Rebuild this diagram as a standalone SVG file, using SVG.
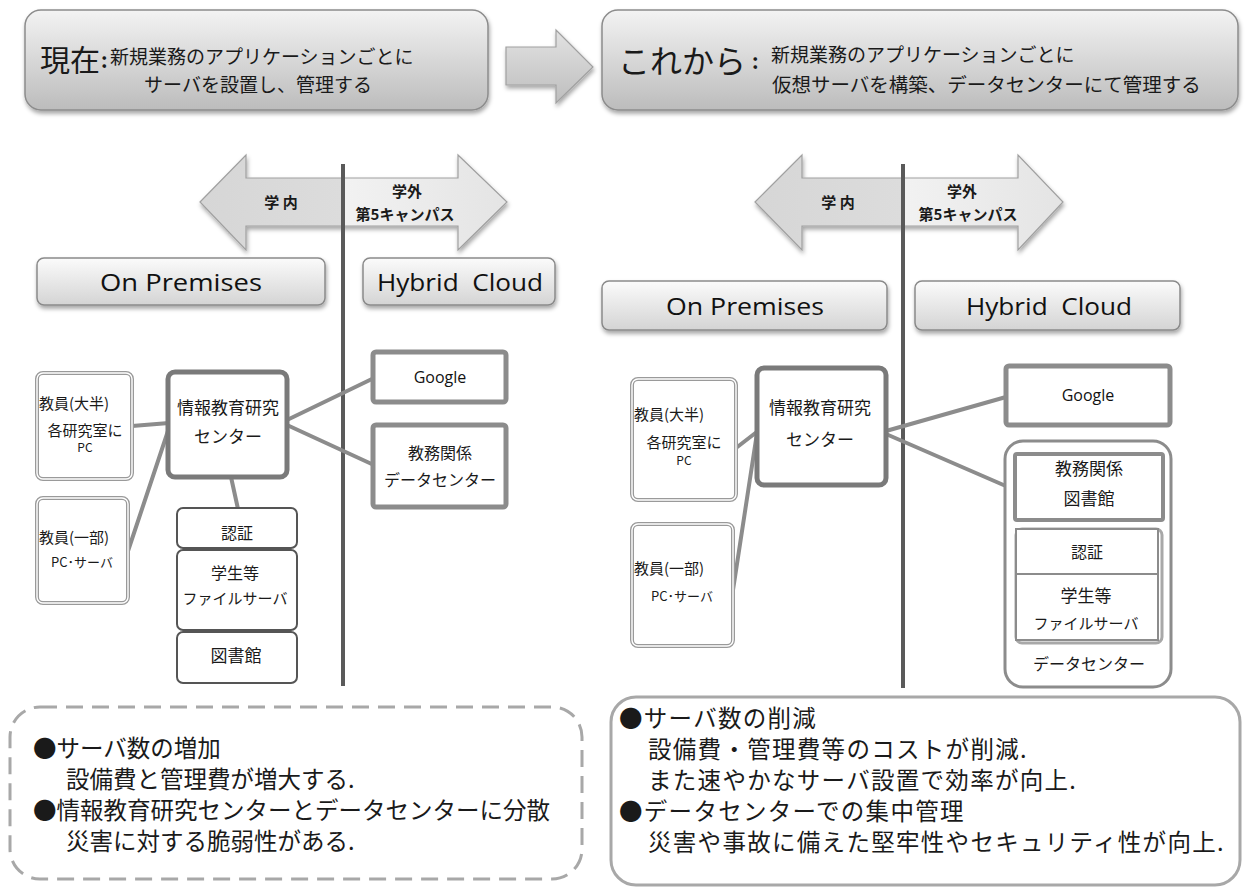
<svg xmlns="http://www.w3.org/2000/svg" width="1248" height="892" viewBox="0 0 1248 892">
<defs>
<style>
.jp{font-family:"Noto Sans CJK JP","Noto Sans CJK SC",sans-serif;fill:#1a1a1a}
.en{font-family:"Open Sans","Liberation Sans",sans-serif;fill:#111}
.bold{font-weight:bold}
.mid{text-anchor:middle}
.hdr{fill:url(#gHdr);stroke:#8c8c8c;stroke-width:1.5}
.cat{fill:url(#gCat);stroke:#8a8a8a;stroke-width:1.5}
.conn{stroke:#8c8c8c;stroke-width:4;fill:none;stroke-linecap:round}
.vline{stroke:#5a5a5a;stroke-width:4}
.thick{fill:#fff;stroke:#7a7a7a;stroke-width:5}
.thick2{fill:#fff;stroke:#8c8c8c;stroke-width:5}
.thin{fill:#fff;stroke:#555;stroke-width:2}
.dbl1{fill:#fff;stroke:#9a9a9a;stroke-width:4}
.dbl2{fill:none;stroke:#fff;stroke-width:1.4}
.arr{stroke:#a0a0a0;stroke-width:1.2}
.noteL{font-size:23.5px}
.noteR{font-size:23.5px;letter-spacing:1.3px}
.cattxt{font-size:24px}
</style>
<linearGradient id="gHdr" x1="0" y1="0" x2="0" y2="1">
<stop offset="0" stop-color="#f3f3f3"/>
<stop offset="1" stop-color="#bcbcbc"/>
</linearGradient>
<linearGradient id="gCat" x1="0" y1="0" x2="0" y2="1">
<stop offset="0" stop-color="#fbfbfb"/>
<stop offset="1" stop-color="#d4d4d4"/>
</linearGradient>
<linearGradient id="gArr" x1="0" y1="0" x2="0" y2="1">
<stop offset="0" stop-color="#e2e2e2"/>
<stop offset="1" stop-color="#bebebe"/>
</linearGradient>
<linearGradient id="gDblL" gradientUnits="userSpaceOnUse" x1="200" y1="0" x2="507" y2="0">
<stop offset="0" stop-color="#d6d6d6"/>
<stop offset="0.466" stop-color="#dcdcdc"/>
<stop offset="0.466" stop-color="#f2f2f2"/>
<stop offset="1" stop-color="#e4e4e4"/>
</linearGradient>
<linearGradient id="gDblR" gradientUnits="userSpaceOnUse" x1="755" y1="0" x2="1063" y2="0">
<stop offset="0" stop-color="#d6d6d6"/>
<stop offset="0.480" stop-color="#dcdcdc"/>
<stop offset="0.480" stop-color="#f2f2f2"/>
<stop offset="1" stop-color="#e4e4e4"/>
</linearGradient>
<filter id="sh" x="-10%" y="-10%" width="120%" height="140%">
<feDropShadow dx="1" dy="3" stdDeviation="2" flood-color="#000" flood-opacity="0.35"/>
</filter>
</defs>
<rect width="1248" height="892" fill="#fff"/>

<!-- header left -->
<g id="header-now">
<rect class="hdr" x="25" y="10" width="463" height="100" rx="16" filter="url(#sh)"/>
<text class="jp" x="40" y="71" font-size="30">現在</text>
<text class="jp bold" x="101" y="68" font-size="20">:</text>
<text class="jp" x="110" y="64" font-size="19">新規業務のアプリケーションごとに</text>
<text class="jp mid" x="258" y="92" font-size="19">サーバを設置し、管理する</text>
</g>

<!-- transition arrow -->
<g id="arrow-next">
<polygon class="arr" points="506,47 556,47 556,30 593,67 556,103 556,85 506,85" fill="url(#gArr)" filter="url(#sh)"/>
</g>

<!-- header right -->
<g id="header-future">
<rect class="hdr" x="602" y="10" width="636" height="100" rx="16" filter="url(#sh)"/>
<text class="jp" x="618" y="73" font-size="32">これから</text>
<text class="jp bold" x="752" y="69" font-size="20">:</text>
<text class="jp" x="771" y="62" font-size="19">新規業務のアプリケーションごとに</text>
<text class="jp" x="772" y="92" font-size="19.5">仮想サーバを構築、データセンターにて管理する</text>
</g>

<!-- connectors -->
<g id="connectors">
<line class="vline" x1="343" y1="164" x2="343" y2="686"/>
<line class="vline" x1="903" y1="164" x2="903" y2="688"/>
<line class="conn" x1="132" y1="426" x2="169" y2="423"/>
<line class="conn" x1="128" y1="551" x2="170" y2="425"/>
<line class="conn" x1="287" y1="420" x2="374" y2="378"/>
<line class="conn" x1="287" y1="425" x2="376" y2="466"/>
<line class="conn" x1="231" y1="477" x2="238" y2="509"/>
<line class="conn" x1="736" y1="448" x2="758" y2="431"/>
<line class="conn" x1="733" y1="590" x2="757" y2="433"/>
<line class="conn" x1="886" y1="431" x2="1006" y2="397"/>
<line class="conn" x1="886" y1="434" x2="1015" y2="490"/>
</g>

<!-- LEFT: double arrow -->
<g id="scope-arrow-left">
<polygon class="arr" points="200,202 246,155 246,178 458,178 458,155 507,202 458,250 458,226 246,226 246,250" fill="url(#gDblL)" filter="url(#sh)"/>
<line x1="343" y1="164" x2="343" y2="250" class="vline"/>
<text class="jp bold mid" x="281" y="208" font-size="15">学 内</text>
<text class="jp bold mid" x="407" y="197" font-size="15">学外</text>
<text class="jp bold mid" x="405" y="220" font-size="15">第5キャンパス</text>
</g>

<g id="onprem-left">
<rect class="cat" x="37" y="258" width="288" height="47" rx="7" filter="url(#sh)"/>
<text class="en mid cattxt" x="181" y="291" textLength="162" lengthAdjust="spacingAndGlyphs">On Premises</text>
</g>
<g id="hybrid-left">
<rect class="cat" x="363" y="258" width="192" height="47" rx="7" filter="url(#sh)"/>
<text class="en mid cattxt" x="460" y="291" textLength="166" lengthAdjust="spacingAndGlyphs" xml:space="preserve">Hybrid  Cloud</text>
</g>

<g id="faculty-most-left">
<rect class="dbl1" x="37" y="373" width="95" height="106" rx="6"/>
<rect class="dbl2" x="37" y="373" width="95" height="106" rx="6"/>
<text class="jp" x="39" y="409" font-size="15">教員(大半)</text>
<text class="jp mid" x="85" y="436" font-size="15">各研究室に</text>
<text class="jp mid" x="85" y="452" font-size="12">PC</text>
</g>
<g id="faculty-some-left">
<rect class="dbl1" x="37" y="498" width="91" height="105" rx="6"/>
<rect class="dbl2" x="37" y="498" width="91" height="105" rx="6"/>
<text class="jp" x="39" y="543" font-size="15">教員(一部)</text>
<text class="jp mid" x="82" y="567" font-size="13">PC･サーバ</text>
</g>
<g id="center-left">
<rect class="thick" x="168" y="372" width="119" height="105" rx="7"/>
<text class="jp mid" x="228" y="414" font-size="17">情報教育研究</text>
<text class="jp mid" x="228" y="443" font-size="17">センター</text>
</g>
<g id="google-left">
<rect class="thick2" x="373" y="352" width="133" height="50" rx="3"/>
<text class="en mid" x="440" y="383" font-size="16">Google</text>
</g>
<g id="academic-dc-left">
<rect class="thick2" x="373" y="425" width="133" height="82" rx="3"/>
<text class="jp mid" x="440" y="459" font-size="16">教務関係</text>
<text class="jp mid" x="440" y="486" font-size="16">データセンター</text>
</g>
<g id="auth-left">
<rect class="thin" x="177" y="508" width="120" height="40" rx="6"/>
<text class="jp mid" x="237" y="539" font-size="16">認証</text>
</g>
<g id="fileserver-left">
<rect class="thin" x="177" y="550" width="120" height="80" rx="6"/>
<text class="jp mid" x="235" y="579" font-size="16">学生等</text>
<text class="jp mid" x="235" y="604" font-size="15">ファイルサーバ</text>
</g>
<g id="library-left">
<rect class="thin" x="177" y="632" width="120" height="51" rx="6"/>
<text class="jp mid" x="236" y="662" font-size="17">図書館</text>
</g>

<!-- RIGHT -->
<g id="scope-arrow-right">
<polygon class="arr" points="755,202 802,155 802,178 1018,178 1018,155 1063,202 1018,250 1018,226 802,226 802,250" fill="url(#gDblR)" filter="url(#sh)"/>
<line x1="903" y1="164" x2="903" y2="250" class="vline"/>
<text class="jp bold mid" x="838" y="208" font-size="15">学 内</text>
<text class="jp bold mid" x="962" y="197" font-size="15">学外</text>
<text class="jp bold mid" x="968" y="220" font-size="15">第5キャンパス</text>
</g>

<g id="onprem-right">
<rect class="cat" x="602" y="281" width="285" height="49" rx="7" filter="url(#sh)"/>
<text class="en mid cattxt" x="745" y="315" textLength="158" lengthAdjust="spacingAndGlyphs">On Premises</text>
</g>
<g id="hybrid-right">
<rect class="cat" x="915" y="281" width="265" height="49" rx="7" filter="url(#sh)"/>
<text class="en mid cattxt" x="1049" y="315" textLength="166" lengthAdjust="spacingAndGlyphs" xml:space="preserve">Hybrid  Cloud</text>
</g>

<g id="faculty-most-right">
<rect class="dbl1" x="632" y="379" width="104" height="121" rx="6"/>
<rect class="dbl2" x="632" y="379" width="104" height="121" rx="6"/>
<text class="jp" x="634" y="420" font-size="15">教員(大半)</text>
<text class="jp mid" x="684" y="448" font-size="15">各研究室に</text>
<text class="jp mid" x="684" y="465" font-size="12">PC</text>
</g>
<g id="faculty-some-right">
<rect class="dbl1" x="632" y="524" width="101" height="122" rx="6"/>
<rect class="dbl2" x="632" y="524" width="101" height="122" rx="6"/>
<text class="jp" x="634" y="574" font-size="15">教員(一部)</text>
<text class="jp mid" x="682" y="601" font-size="13">PC･サーバ</text>
</g>
<g id="center-right">
<rect class="thick" x="757" y="368" width="129" height="117" rx="7"/>
<text class="jp mid" x="820" y="414" font-size="17">情報教育研究</text>
<text class="jp mid" x="820" y="446" font-size="17">センター</text>
</g>
<g id="google-right">
<rect class="thick2" x="1006" y="366" width="164" height="59" rx="3"/>
<text class="en mid" x="1088" y="401" font-size="16">Google</text>
</g>
<g id="datacenter-right">
<rect x="1005" y="441" width="166" height="246" rx="18" fill="#fff" stroke="#8c8c8c" stroke-width="3"/>
<rect x="1015" y="454" width="148" height="66" rx="2" fill="#fff" stroke="#8c8c8c" stroke-width="4"/>
<text class="jp mid" x="1089" y="475" font-size="17">教務関係</text>
<text class="jp mid" x="1089" y="505" font-size="17">図書館</text>
<rect x="1016" y="529" width="146" height="114" rx="6" fill="#fff" stroke="#a8a8a8" stroke-width="3"/>
<rect x="1016" y="529" width="142" height="45" fill="#fff" stroke="#8c8c8c" stroke-width="2"/>
<text class="jp mid" x="1087" y="558" font-size="16">認証</text>
<rect x="1016" y="574" width="142" height="66" fill="#fff" stroke="#8c8c8c" stroke-width="2"/>
<text class="jp mid" x="1086" y="602" font-size="17">学生等</text>
<text class="jp mid" x="1086" y="629" font-size="15">ファイルサーバ</text>
<text class="jp mid" x="1089" y="670" font-size="16">データセンター</text>
</g>

<!-- bottom notes -->
<g id="note-now">
<rect x="10" y="707" width="572" height="172" rx="30" fill="#fff" stroke="#a8a8a8" stroke-width="3" stroke-dasharray="17 9"/>
<text class="jp noteL" x="33" y="757">●サーバ数の増加</text>
<text class="jp noteL" x="66" y="788">設備費と管理費が増大する.</text>
<text class="jp noteL" x="33" y="819">●情報教育研究センターとデータセンターに分散</text>
<text class="jp noteL" x="66" y="850">災害に対する脆弱性がある.</text>
</g>
<g id="note-future">
<rect x="611" y="697" width="629" height="188" rx="25" fill="#fff" stroke="#a8a8a8" stroke-width="3"/>
<text class="jp noteR" x="619" y="727">●サーバ数の削減</text>
<text class="jp noteR" x="648" y="758">設備費・管理費等のコストが削減.</text>
<text class="jp noteR" x="648" y="789">また速やかなサーバ設置で効率が向上.</text>
<text class="jp noteR" x="619" y="820">●データセンターでの集中管理</text>
<text class="jp noteR" x="648" y="851">災害や事故に備えた堅牢性やセキュリティ性が向上.</text>
</g>
</svg>
